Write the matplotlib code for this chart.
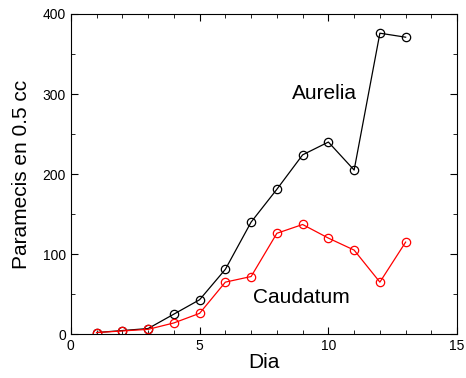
import matplotlib
matplotlib.use("Agg")
import matplotlib.pyplot as plt
from matplotlib.ticker import MultipleLocator

plt.rcParams['font.family'] = ['Liberation Sans', 'DejaVu Sans']

dias = [1, 2, 3, 4, 5, 6, 7, 8, 9, 10, 11, 12, 13]
aurelia = [2, 4.5, 7, 25, 43, 81, 140, 181, 224, 240, 205, 376, 371]
caudatum = [2, 4, 6, 14, 26, 65, 72, 126, 137, 120, 105, 65, 115]

fig = plt.figure(figsize=(4.66, 3.78), dpi=100)
ax = fig.add_axes([0.152, 0.116, 0.829, 0.847])

ax.plot(dias, aurelia, color='black', lw=0.9, marker='o', ms=6,
        mfc='none', mec='black', mew=0.9)
ax.plot(dias, caudatum, color='red', lw=0.9, marker='o', ms=6,
        mfc='none', mec='red', mew=0.9)

ax.text(9.85, 301, 'Aurelia', fontsize=15, ha='center', va='center')
ax.text(8.94, 46, 'Caudatum', fontsize=15, ha='center', va='center')

ax.set_xlim(0, 15)
ax.set_ylim(0, 400)
ax.xaxis.set_major_locator(MultipleLocator(5))
ax.xaxis.set_minor_locator(MultipleLocator(1))
ax.yaxis.set_major_locator(MultipleLocator(100))
ax.yaxis.set_minor_locator(MultipleLocator(50))
ax.tick_params(which='both', direction='in', top=True, right=True, labelsize=10)
ax.tick_params(which='major', length=5)
ax.tick_params(which='minor', length=3)
ax.set_xlabel('Dia', fontsize=15, labelpad=0)
ax.set_ylabel('Paramecis en 0.5 cc', fontsize=15, labelpad=8)

fig.savefig('out.png', dpi=100)
